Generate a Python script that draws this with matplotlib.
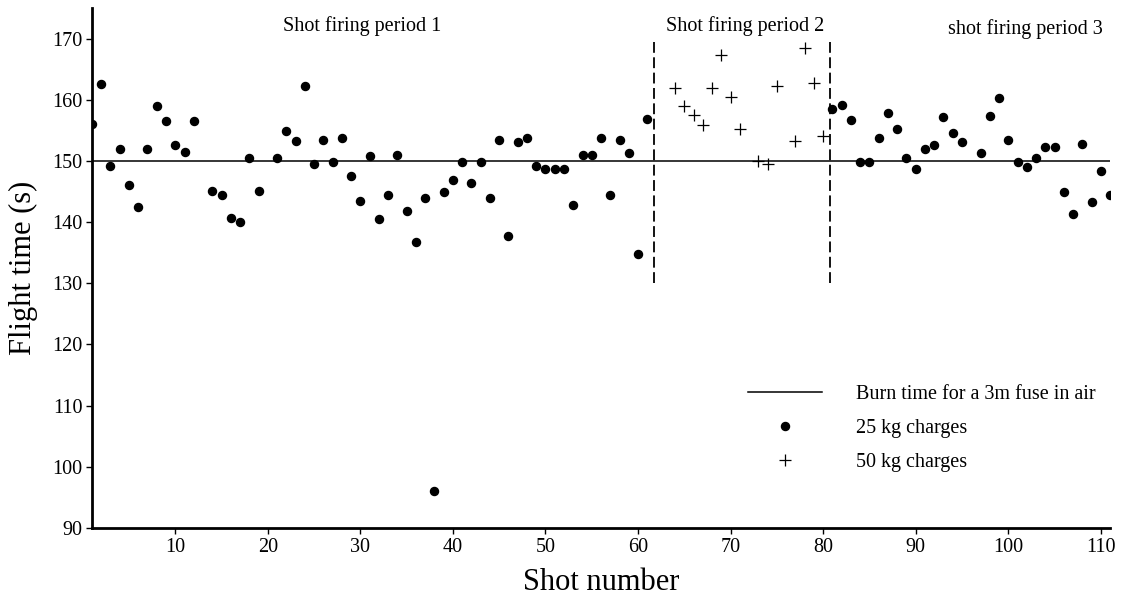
import numpy as np
import matplotlib
matplotlib.use("Agg")
import matplotlib.pyplot as plt

# 25 kg charges (dots)
shots_25 = [1, 2, 3, 4, 5, 6, 7, 8, 9, 10, 11, 12, 14, 15, 16, 17, 18, 19,
            21, 22, 23, 24, 25, 26, 27, 28, 29, 30, 31, 32, 33, 34, 35, 36, 37, 38,
            39, 40, 41, 42, 43, 44, 45, 46, 47, 48, 49, 50, 51, 52, 53, 54, 55, 56,
            57, 58, 59, 60, 61,
            81, 82, 83, 84, 85, 86, 87, 88, 89, 90, 91, 92, 93, 94, 95, 97, 98, 99,
            100, 101, 102, 103, 104, 105, 106, 107, 108, 109, 110, 111]
time_25 = [156.0, 162.6, 149.1, 151.9, 146.0, 142.5, 152.0, 158.9, 156.6, 152.6, 151.5, 156.6,
           145.1, 144.5, 140.7, 140.0, 150.5, 145.1,
           150.5, 154.9, 153.3, 162.3, 149.5, 153.5, 149.9, 153.7, 147.6, 143.5, 150.8, 140.5,
           144.5, 151.0, 141.8, 136.7, 144.0, 96.0,
           144.9, 146.9, 149.9, 146.4, 149.9, 144.0, 153.4, 137.8, 153.1, 153.7, 149.2, 148.6,
           148.7, 148.6, 142.8, 151.0, 151.0, 153.8,
           144.4, 153.5, 151.3, 134.8, 156.9,
           158.5, 159.2, 156.7, 149.9, 149.9, 153.7, 157.9, 155.2, 150.4, 148.6, 151.9, 152.6,
           157.2, 154.6, 153.1, 151.3, 157.3, 160.3,
           153.4, 149.9, 149.0, 150.5, 152.2, 152.3, 144.9, 141.4, 152.8, 143.3, 148.4, 144.4]

# 50 kg charges (crosses)
shots_50 = [64, 65, 66, 67, 68, 69, 70, 71, 73, 74, 75, 77, 78, 79, 80]
time_50 = [162.0, 159.0, 157.5, 155.8, 161.9, 167.3, 160.4, 155.2, 150.0, 149.5,
           162.2, 153.3, 168.4, 162.8, 154.1]

burn_time = 150
period_bounds = [61.7, 80.7]
period_names = ["Shot firing period 1", "Shot firing period 2", "shot firing period 3"]
period_pos = [(30.2, 171.3), (71.6, 171.3), (101.8, 170.8)]

plt.rcParams["font.family"] = ["Liberation Serif", "DejaVu Serif"]

fig = plt.figure(figsize=(11.27, 6.0), dpi=100)
ax = fig.add_axes([0.0816, 0.12, 0.9034, 0.8667])

ax.axhline(burn_time, color="black", linewidth=1.1, label="Burn time for a 3m fuse in air")
ax.plot(shots_25, time_25, "o", color="black", markersize=5.8, label="25 kg charges")
ax.plot(shots_50, time_50, "+", color="black", markersize=9, markeredgewidth=0.9, label="50 kg charges")

for b in period_bounds:
    ax.plot([b, b], [130, 169.5], color="black", linestyle=(0, (6, 2.5)), linewidth=1.3)

for name, (px, py) in zip(period_names, period_pos):
    ax.text(px, py, name, ha="center", va="baseline", fontsize=14.5)

ax.set_xlim(1, 111)
ax.set_ylim(90, 175)
ax.set_xticks(np.arange(10, 111, 10))
ax.set_yticks(np.arange(90, 171, 10))
ax.tick_params(labelsize=14.5, direction="out", length=4, width=1, pad=3)

for s in ["top", "right"]:
    ax.spines[s].set_visible(False)
ax.spines["left"].set_linewidth(2)
ax.spines["bottom"].set_linewidth(2)

ax.set_xlabel("Shot number", fontsize=22, labelpad=8)
ax.set_ylabel("Flight time (s)", fontsize=22, labelpad=10)

ax.legend(loc="upper left", bbox_to_anchor=(0.644, 0.275), frameon=False, fontsize=14.5,
          handlelength=3.7, handletextpad=1.7, labelspacing=0.75, borderpad=0, borderaxespad=0)

fig.savefig("out.png", dpi=100)
